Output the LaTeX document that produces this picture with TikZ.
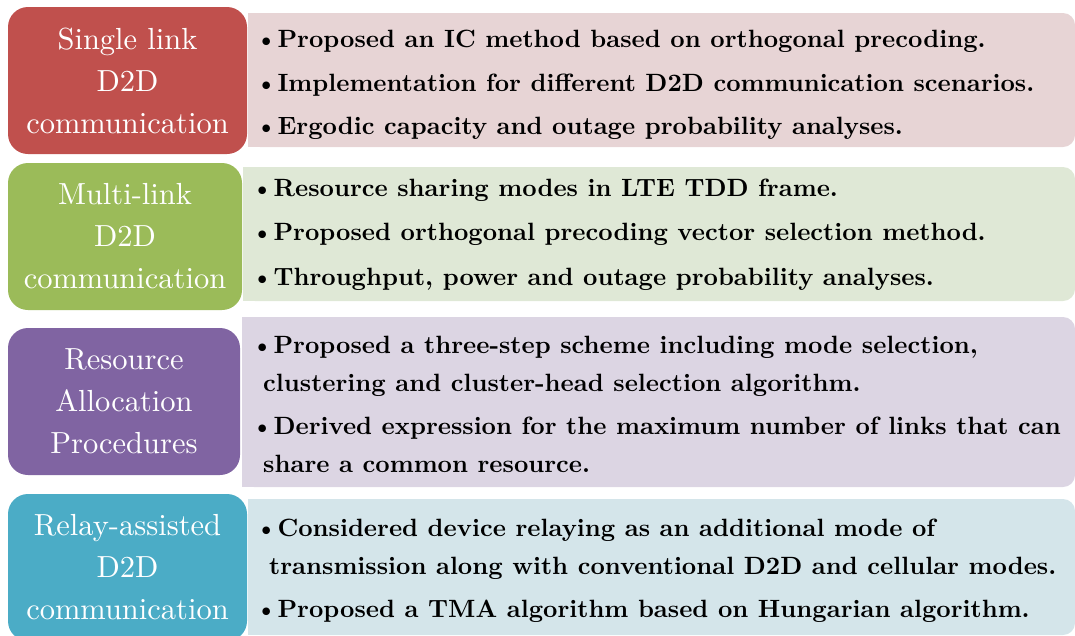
\documentclass[tikz,border=0pt]{standalone}
\usepackage{fontspec}
\usepackage{xcolor}
% the 10pt design size of Latin Modern, scaled up
\newfontfamily\labfont{lmroman10-regular}[Extension=.otf]
\newfontfamily\itemfont{lmroman10-bold}[Extension=.otf]
\definecolor{boxRed}{HTML}{C0504D}
\definecolor{boxGreen}{HTML}{9BBB59}
\definecolor{boxPurple}{HTML}{8064A2}
\definecolor{boxTeal}{HTML}{4BACC6}
\definecolor{panRed}{HTML}{E7D4D5}
\definecolor{panGreen}{HTML}{DFE8D6}
\definecolor{panPurple}{HTML}{DCD5E3}
\definecolor{panTeal}{HTML}{D4E5EA}
\begin{document}
\begin{tikzpicture}[x=1pt,y=-1pt,
  topic/.style={text=white, rounded corners=20pt, inner sep=0pt,
    minimum height=147pt, align=center,
    font=\labfont\fontsize{30.5}{42}\selectfont},
  items/.style={anchor=west, align=left, inner sep=0pt,
    font=\itemfont\fontsize{25}{38}\selectfont},
  pb/.style={rounded corners=12pt}]
\useasboundingbox (0,0) rectangle (1075,635);
\clip (0,0) rectangle (1075,635);

% light panels: square on the left, rounded on the right
\fill[panRed,pb] (248,13) rectangle (1075,147);
\fill[panRed] (248,13) rectangle (300,147);
\fill[panGreen,pb] (243,167) rectangle (1075,301);
\fill[panGreen] (243,167) rectangle (300,301);
\fill[panPurple,pb] (242,317) rectangle (1075,487);
\fill[panPurple] (242,317) rectangle (300,487);
\fill[panTeal,pb] (248,499) rectangle (1075,635);
\fill[panTeal] (248,499) rectangle (300,635);

% topic boxes
\node[topic, fill=boxRed, minimum width=239pt] (t1) at (127.5,80.5)
  {Single link\\D2D\\communication};
\node[topic, fill=boxGreen, minimum width=234pt] (t2) at (125,236.5)
  {Multi-link\\D2D\\communication};
\node[topic, fill=boxPurple, minimum width=232pt] (t3) at (124,401.5)
  {Resource\\Allocation\\Procedures};
\node[topic, fill=boxTeal, minimum width=239pt] (t4) at (127.5,567.5)
  {Relay-assisted\\D2D\\communication};

% item lists
\node[items] (l1) at (255,85)
  {\textbullet Proposed an IC method based on orthogonal precoding.\\[5.5pt]
   \textbullet Implementation for different D2D communication scenarios.\\[5.5pt]
   \textbullet Ergodic capacity and outage probability analyses.};
\node[items] (l2) at (251,234.5)
  {\textbullet Resource sharing modes in LTE TDD frame.\\[6.5pt]
   \textbullet Proposed orthogonal precoding vector selection method.\\[6.5pt]
   \textbullet Throughput, power and outage probability analyses.};
\node[items] (l3) at (251,404.5)
  {\textbullet Proposed a three-step scheme including mode selection,\\
   \hspace*{12pt}clustering and cluster-head selection algorithm.\\[5pt]
   \textbullet Derived expression for the maximum number of links that can\\
   \hspace*{12pt}share a common resource.};
\node[items] (l4) at (255,571)
  {\textbullet Considered device relaying as an additional mode of\\
   \hspace*{14pt}transmission along with conventional D2D and cellular modes.\\[5pt]
   \textbullet Proposed a TMA algorithm based on Hungarian algorithm.};
\end{tikzpicture}
\end{document}
